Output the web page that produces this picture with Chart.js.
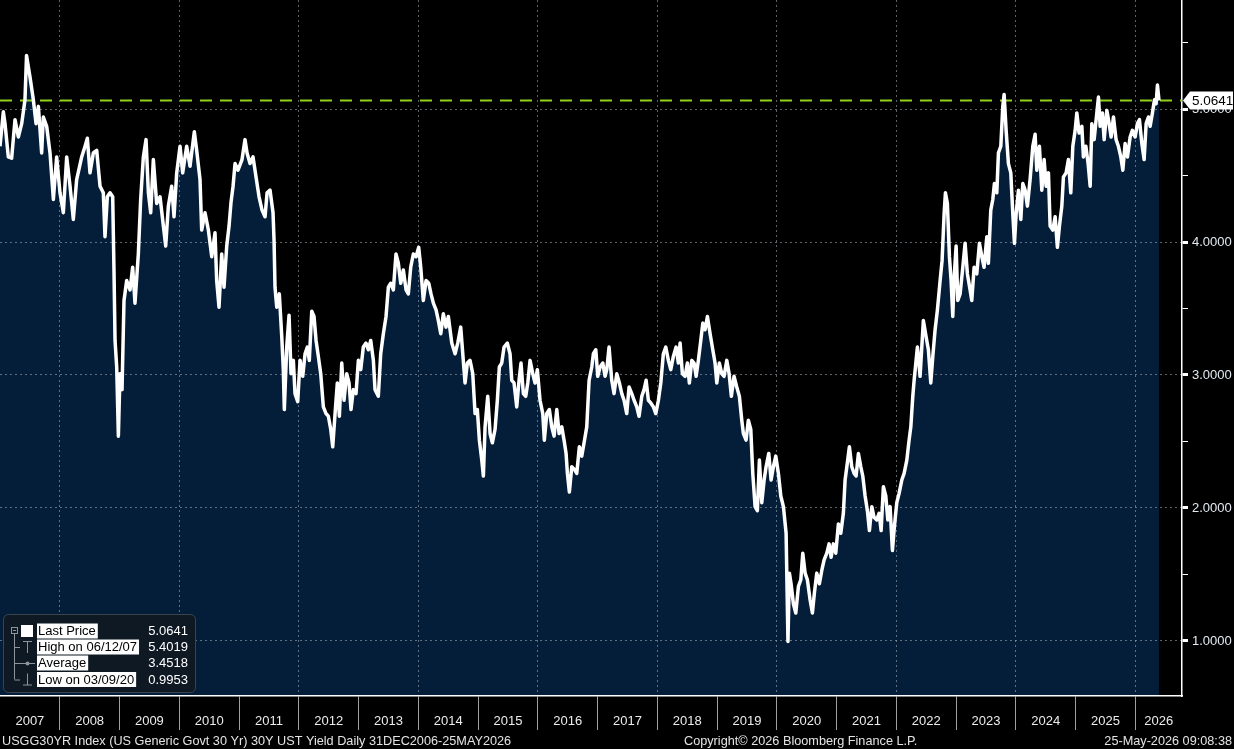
<!DOCTYPE html>
<html>
<head>
<meta charset="utf-8">
<script src="https://cdn.jsdelivr.net/npm/chart.js@4.4.1/dist/chart.umd.min.js"></script>
<style>
html, body { margin: 0; padding: 0; background: #000; }
#wrap { width: 1234px; height: 749px; }
canvas { display: block; }
</style>
</head>
<body>
<div id="wrap"><canvas id="c" width="1234" height="749"></canvas></div>
<script>
// USGG30YR, [decimal year, yield %]
const yields2007to2010 = [
  [2007.000,4.72],[2007.056,4.98],[2007.084,4.89],[2007.139,4.64],[2007.195,4.63],[2007.251,4.92],[2007.307,4.79],
  [2007.363,4.89],[2007.418,5.07],[2007.444,5.4019],[2007.502,5.24],[2007.558,5.07],[2007.603,4.89],[2007.642,5.02],
  [2007.697,4.67],[2007.725,4.94],[2007.781,4.87],[2007.837,4.67],[2007.893,4.32],[2007.948,4.64],[2008.004,4.37],
  [2008.060,4.22],[2008.116,4.64],[2008.172,4.42],[2008.227,4.17],[2008.283,4.47],[2008.367,4.64],[2008.423,4.72],
  [2008.462,4.78],[2008.506,4.52],[2008.562,4.67],[2008.618,4.69],[2008.674,4.42],[2008.729,4.37],[2008.757,4.04],
  [2008.796,4.34],[2008.841,4.37],[2008.886,4.34],[2008.908,3.77],[2008.925,3.26],[2008.953,3.06],[2008.981,2.54],
  [2009.008,3.01],[2009.042,2.89],[2009.075,3.56],[2009.120,3.71],[2009.176,3.64],[2009.220,3.81],[2009.259,3.54],
  [2009.315,3.91],[2009.354,4.32],[2009.399,4.64],[2009.444,4.77],[2009.483,4.37],[2009.522,4.22],[2009.566,4.62],
  [2009.622,4.29],[2009.678,4.34],[2009.734,4.12],[2009.773,3.97],[2009.817,4.27],[2009.873,4.42],[2009.912,4.19],
  [2009.957,4.52],[2010.013,4.72],[2010.057,4.52],[2010.124,4.72],[2010.180,4.57],[2010.252,4.83],[2010.291,4.69],
  [2010.347,4.47],[2010.375,4.09],[2010.431,4.22],[2010.487,4.09],[2010.543,3.89],[2010.598,4.07],[2010.626,3.71],
  [2010.665,3.51],[2010.710,3.91],[2010.749,3.66],[2010.794,3.97],[2010.833,4.12],[2010.866,4.30],[2010.900,4.42],
  [2010.933,4.59],[2010.983,4.54]
];
const yields2011to2014 = [
  [2011.050,4.62],[2011.100,4.77],[2011.134,4.67],[2011.184,4.59],[2011.234,4.64],[2011.301,4.44],[2011.335,4.34],
  [2011.385,4.24],[2011.435,4.19],[2011.469,4.37],[2011.519,4.39],[2011.569,4.22],[2011.586,4.01],[2011.602,3.66],
  [2011.631,3.51],[2011.674,3.61],[2011.715,3.29],[2011.741,3.04],[2011.758,2.74],[2011.798,3.21],[2011.837,3.45],
  [2011.870,3.01],[2011.909,3.11],[2011.937,2.86],[2011.982,2.80],[2012.021,3.11],[2012.066,2.99],[2012.105,3.16],
  [2012.143,3.21],[2012.176,3.11],[2012.217,3.48],[2012.255,3.44],[2012.289,3.26],[2012.327,3.14],[2012.367,3.01],
  [2012.411,2.76],[2012.456,2.71],[2012.495,2.69],[2012.535,2.59],[2012.568,2.46],[2012.607,2.71],[2012.645,2.94],
  [2012.679,2.69],[2012.719,3.09],[2012.757,2.81],[2012.802,3.01],[2012.841,2.94],[2012.874,2.74],[2012.913,2.89],
  [2012.958,2.86],[2012.997,3.11],[2013.037,3.04],[2013.080,3.21],[2013.125,3.24],[2013.164,3.19],[2013.204,3.26],
  [2013.248,3.11],[2013.276,2.89],[2013.331,2.84],[2013.371,3.16],[2013.415,3.31],[2013.460,3.44],[2013.499,3.66],
  [2013.539,3.69],[2013.582,3.64],[2013.627,3.91],[2013.666,3.84],[2013.706,3.69],[2013.750,3.79],[2013.795,3.64],
  [2013.833,3.61],[2013.873,3.81],[2013.917,3.91],[2013.962,3.89],[2014.007,3.96],[2014.041,3.81],[2014.084,3.56],
  [2014.130,3.71],[2014.175,3.69],[2014.213,3.61],[2014.252,3.54],[2014.297,3.49],[2014.335,3.41],[2014.376,3.31],
  [2014.419,3.46],[2014.464,3.36],[2014.503,3.44],[2014.560,3.24],[2014.615,3.16],[2014.660,3.24],[2014.710,3.36],
  [2014.744,3.16],[2014.782,2.94],[2014.821,3.09],[2014.866,3.11],[2014.911,3.01],[2014.950,2.71],[2014.988,2.74]
];
const yields2015to2018 = [
  [2015.022,2.51],[2015.062,2.36],[2015.089,2.24],[2015.117,2.61],[2015.162,2.84],[2015.201,2.56],[2015.239,2.49],
  [2015.284,2.59],[2015.323,2.81],[2015.356,3.06],[2015.396,3.09],[2015.435,3.21],[2015.490,3.24],[2015.535,3.16],
  [2015.564,2.96],[2015.602,2.94],[2015.647,2.76],[2015.686,2.96],[2015.719,3.09],[2015.758,2.86],[2015.798,2.84],
  [2015.832,2.94],[2015.870,3.11],[2015.915,3.01],[2015.954,2.94],[2015.992,3.04],[2016.037,2.81],[2016.083,2.71],
  [2016.109,2.51],[2016.150,2.71],[2016.193,2.74],[2016.233,2.61],[2016.272,2.54],[2016.317,2.74],[2016.356,2.56],
  [2016.401,2.61],[2016.439,2.51],[2016.473,2.41],[2016.495,2.26],[2016.528,2.12],[2016.568,2.31],[2016.612,2.29],
  [2016.652,2.26],[2016.695,2.46],[2016.735,2.39],[2016.774,2.49],[2016.819,2.61],[2016.858,2.96],[2016.903,3.06],
  [2016.930,3.16],[2016.970,3.19],[2017.003,2.99],[2017.042,3.06],[2017.087,3.09],[2017.125,2.99],[2017.154,3.04],
  [2017.192,3.21],[2017.237,2.96],[2017.276,2.86],[2017.321,3.01],[2017.365,2.94],[2017.405,2.86],[2017.443,2.81],
  [2017.488,2.71],[2017.527,2.91],[2017.572,2.86],[2017.611,2.81],[2017.656,2.76],[2017.694,2.69],[2017.740,2.84],
  [2017.778,2.89],[2017.812,2.96],[2017.850,2.81],[2017.890,2.79],[2017.934,2.76],[2017.974,2.71],[2018.018,2.81],
  [2018.058,2.94],[2018.101,3.16],[2018.141,3.21],[2018.185,3.11],[2018.225,3.04],[2018.268,3.14],[2018.314,3.21],
  [2018.352,3.09],[2018.381,3.24],[2018.419,3.01],[2018.464,2.99],[2018.503,3.09],[2018.536,2.94],[2018.577,3.11],
  [2018.615,3.09],[2018.649,2.99],[2018.687,3.11],[2018.727,3.26],[2018.761,3.39],[2018.799,3.34],[2018.838,3.44],
  [2018.883,3.31],[2018.928,3.19],[2018.966,3.09],[2018.995,2.94]
];
const yields2019to2022 = [
  [2019.038,3.09],[2019.078,3.01],[2019.117,2.99],[2019.162,3.11],[2019.201,3.01],[2019.239,2.84],[2019.284,2.99],
  [2019.329,2.91],[2019.373,2.84],[2019.413,2.66],[2019.440,2.56],[2019.485,2.51],[2019.523,2.66],[2019.564,2.59],
  [2019.597,2.26],[2019.636,2.01],[2019.674,1.98],[2019.708,2.36],[2019.748,2.04],[2019.787,2.21],[2019.820,2.31],
  [2019.865,2.41],[2019.904,2.21],[2019.942,2.31],[2019.982,2.39],[2020.026,2.26],[2020.066,2.09],[2020.110,2.01],
  [2020.155,1.81],[2020.186,0.9953],[2020.210,1.51],[2020.238,1.43],[2020.277,1.28],[2020.317,1.21],[2020.361,1.41],
  [2020.401,1.46],[2020.434,1.66],[2020.473,1.51],[2020.511,1.46],[2020.556,1.31],[2020.595,1.21],[2020.628,1.36],
  [2020.668,1.51],[2020.712,1.43],[2020.752,1.53],[2020.791,1.61],[2020.836,1.66],[2020.874,1.73],[2020.908,1.63],
  [2020.946,1.73],[2020.986,1.66],[2021.030,1.88],[2021.070,1.81],[2021.113,1.96],[2021.142,2.21],[2021.180,2.34],
  [2021.214,2.46],[2021.254,2.31],[2021.293,2.26],[2021.326,2.24],[2021.365,2.41],[2021.405,2.31],[2021.438,2.24],
  [2021.477,2.09],[2021.515,1.98],[2021.549,1.83],[2021.589,2.01],[2021.627,1.93],[2021.672,1.91],[2021.711,1.96],
  [2021.745,1.83],[2021.783,2.16],[2021.823,2.09],[2021.857,1.91],[2021.895,2.01],[2021.934,1.68],[2021.967,1.86],
  [2022.007,2.04],[2022.046,2.11],[2022.091,2.21],[2022.130,2.26],[2022.175,2.36],[2022.213,2.51],[2022.242,2.61],
  [2022.275,2.84],[2022.297,2.96],[2022.352,3.21],[2022.397,2.99],[2022.452,3.41],[2022.497,3.29],[2022.536,3.19],
  [2022.576,2.94],[2022.610,3.14],[2022.648,3.34],[2022.687,3.49],[2022.732,3.71],[2022.765,3.86],[2022.799,4.21],
  [2022.821,4.37],[2022.854,4.29],[2022.888,3.89],[2022.916,3.71],[2022.944,3.44],[2022.971,3.76]
];
const yields2023to2026 = [
  [2023.000,3.97],[2023.028,3.56],[2023.067,3.61],[2023.112,3.81],[2023.150,3.99],[2023.189,3.76],[2023.234,3.64],
  [2023.262,3.56],[2023.301,3.81],[2023.346,3.76],[2023.390,3.99],[2023.430,3.89],[2023.468,3.81],[2023.514,4.04],
  [2023.540,3.84],[2023.580,4.24],[2023.614,4.32],[2023.641,4.44],[2023.681,4.37],[2023.708,4.67],[2023.748,4.72],
  [2023.781,5.02],[2023.803,5.11],[2023.837,4.84],[2023.875,4.59],[2023.915,4.52],[2023.949,4.21],[2023.976,3.99],
  [2024.004,4.21],[2024.043,4.39],[2024.083,4.17],[2024.116,4.44],[2024.155,4.39],[2024.193,4.27],[2024.238,4.47],
  [2024.283,4.72],[2024.322,4.81],[2024.350,4.54],[2024.394,4.72],[2024.434,4.39],[2024.473,4.62],[2024.506,4.42],
  [2024.545,4.52],[2024.573,4.12],[2024.618,4.09],[2024.657,4.19],[2024.695,3.96],[2024.729,4.12],[2024.769,4.27],
  [2024.796,4.49],[2024.841,4.52],[2024.879,4.62],[2024.919,4.37],[2024.953,4.72],[2024.992,4.84],[2025.020,4.97],
  [2025.058,4.82],[2025.104,4.87],[2025.130,4.64],[2025.171,4.72],[2025.209,4.59],[2025.243,4.42],[2025.271,4.89],
  [2025.310,4.77],[2025.343,4.92],[2025.382,5.09],[2025.410,4.87],[2025.448,4.97],[2025.477,4.77],[2025.522,4.99],
  [2025.561,4.89],[2025.594,4.79],[2025.633,4.94],[2025.677,4.77],[2025.716,4.72],[2025.756,4.64],[2025.790,4.54],
  [2025.828,4.74],[2025.867,4.64],[2025.912,4.79],[2025.950,4.84],[2025.996,4.79],[2026.034,4.89],[2026.068,4.92],
  [2026.108,4.74],[2026.146,4.62],[2026.180,4.89],[2026.218,4.94],[2026.247,4.87],[2026.285,4.97],[2026.319,5.07],
  [2026.347,5.04],[2026.369,5.18],[2026.395,5.0641]
];

const yearTicks = [2007,2008,2009,2010,2011,2012,2013,2014,2015,2016,2017,2018,2019,2020,2021,2022,2023,2024,2025,2026];
const yTickValues = [1, 2, 3, 4, 5];
const yMinorValues = [1.5, 2.5, 3.5, 4.5, 5.5];
const legendLabels = ['Last Price', 'High on 06/12/07', 'Average', 'Low on 03/09/20'];
const legendValues = [5.0641, 5.4019, 3.4518, 0.9953];
const footerLeft = 'USGG30YR Index (US Generic Govt 30 Yr) 30Y UST Yield Daily 31DEC2006-25MAY2026';
const footerMid = 'Copyright\u00a9 2026 Bloomberg Finance L.P.';
const footerRight = '25-May-2026 09:08:38';

const xMin = 2007, xMax = 2026.78;
const yMin = 0.586, yMax = 5.82;

const points = [].concat(yields2007to2010, yields2011to2014, yields2015to2018, yields2019to2022, yields2023to2026)
  .map(function (p) { return { x: p[0], y: p[1] }; });
const lastPrice = points[points.length - 1].y;

const GRID = 'rgba(170,180,190,0.55)';
const NONE = 'rgba(0,0,0,0)';
const FONT = '"Liberation Sans", Arial, sans-serif';

Chart.defaults.font.family = FONT;
Chart.defaults.font.size = 13;

// dashed last price line, right-hand tag, legend box, footer
const decor = {
  id: 'decor',
  beforeDatasetsDraw(chart) {
    const ctx = chart.ctx, a = chart.chartArea;
    const py = chart.scales.y.getPixelForValue(lastPrice);
    ctx.save();
    ctx.strokeStyle = '#8fd11c';
    ctx.lineWidth = 2;
    ctx.setLineDash([12, 8]);
    ctx.beginPath();
    ctx.moveTo(a.left, py);
    ctx.lineTo(a.right, py);
    ctx.stroke();
    ctx.restore();
  },
  afterDraw(chart) {
    const ctx = chart.ctx, a = chart.chartArea;
    const py = chart.scales.y.getPixelForValue(lastPrice);

    // last price tag
    ctx.save();
    ctx.fillStyle = '#fff';
    ctx.beginPath();
    ctx.moveTo(a.right + 1, py);
    ctx.lineTo(a.right + 8, py - 9);
    ctx.lineTo(chart.width - 1, py - 9);
    ctx.lineTo(chart.width - 1, py + 9);
    ctx.lineTo(a.right + 8, py + 9);
    ctx.closePath();
    ctx.fill();
    ctx.fillStyle = '#000';
    ctx.font = '13.5px ' + FONT;
    ctx.textBaseline = 'middle';
    ctx.fillText(lastPrice.toFixed(4), a.right + 10, py + 1);

    // legend box
    const bx = a.left + 3, by = a.bottom - 82, bw = 192, bh = 78;
    ctx.fillStyle = '#0f1923';
    ctx.strokeStyle = '#3a444e';
    ctx.lineWidth = 1;
    ctx.beginPath();
    ctx.roundRect(bx + 0.5, by + 0.5, bw, bh, 5);
    ctx.fill();
    ctx.stroke();

    const rowY = [by + 17, by + 33, by + 49, by + 65.5];
    const grey = '#8d949b';
    ctx.strokeStyle = grey;
    ctx.fillStyle = grey;
    ctx.lineWidth = 1;
    // tree
    ctx.strokeRect(bx + 8.5, rowY[0] - 3.5, 6, 6);
    ctx.beginPath();
    ctx.moveTo(bx + 10, rowY[0] - 0.5); ctx.lineTo(bx + 13, rowY[0] - 0.5);
    ctx.moveTo(bx + 11.5, rowY[0] + 3); ctx.lineTo(bx + 11.5, rowY[3]);
    for (let i = 1; i < 4; i++) {
      ctx.moveTo(bx + 11.5, rowY[i] + 0.5); ctx.lineTo(bx + 17, rowY[i] + 0.5);
    }
    // high
    ctx.moveTo(bx + 20, rowY[1] - 5.5); ctx.lineTo(bx + 29, rowY[1] - 5.5);
    ctx.moveTo(bx + 24.5, rowY[1] - 5.5); ctx.lineTo(bx + 24.5, rowY[1] + 6);
    // average
    ctx.moveTo(bx + 17, rowY[2] + 0.5); ctx.lineTo(bx + 32, rowY[2] + 0.5);
    // low
    ctx.moveTo(bx + 24.5, rowY[3] - 6); ctx.lineTo(bx + 24.5, rowY[3] + 5.5);
    ctx.moveTo(bx + 20, rowY[3] + 5.5); ctx.lineTo(bx + 29, rowY[3] + 5.5);
    ctx.stroke();
    ctx.beginPath();
    ctx.arc(bx + 24.5, rowY[2] + 0.5, 2, 0, Math.PI * 2);
    ctx.fill();
    ctx.fillStyle = '#fff';
    ctx.fillRect(bx + 18, rowY[0] - 6, 12, 12);

    ctx.font = '13px ' + FONT;
    ctx.textBaseline = 'middle';
    for (let i = 0; i < legendLabels.length; i++) {
      const w = ctx.measureText(legendLabels[i]).width;
      ctx.fillStyle = '#fff';
      ctx.fillRect(bx + 34, rowY[i] - 7.5, w + 3, 15);
      ctx.fillStyle = '#000';
      ctx.textAlign = 'left';
      ctx.fillText(legendLabels[i], bx + 35, rowY[i] + 0.5);
      ctx.fillStyle = '#fff';
      ctx.textAlign = 'right';
      ctx.fillText(legendValues[i].toFixed(4), bx + 185, rowY[i] + 0.5);
    }

    // footer
    ctx.font = '12.7px ' + FONT;
    ctx.fillStyle = '#e4e4e4';
    ctx.textBaseline = 'middle';
    ctx.textAlign = 'left';
    ctx.fillText(footerLeft, 2, chart.height - 8);
    ctx.fillText(footerMid, 684, chart.height - 8);
    ctx.textAlign = 'right';
    ctx.fillText(footerRight, chart.width - 2, chart.height - 8);
    ctx.restore();
  }
};

new Chart(document.getElementById('c'), {
  type: 'line',
  data: {
    datasets: [{
      data: points,
      xAxisID: 'x',
      yAxisID: 'y',
      borderColor: '#ffffff',
      borderWidth: 3.5,
      borderJoinStyle: 'round',
      backgroundColor: '#041d38',
      fill: 'start',
      pointRadius: 0,
      tension: 0
    }]
  },
  options: {
    responsive: false,
    animation: false,
    devicePixelRatio: 1,
    layout: { padding: { left: 0, right: 0, top: 0, bottom: 14 } },
    plugins: {
      legend: { display: false },
      tooltip: { enabled: false },
      filler: { drawTime: 'beforeDraw' }
    },
    scales: {
      xg: {
        type: 'linear', position: 'bottom', weight: 0, min: xMin, max: xMax,
        grid: {
          color: function (c) { return c.tick && c.tick.value % 2 === 0 ? GRID : NONE; },
          drawTicks: true, tickLength: 34, tickColor: '#a0a0a0', tickWidth: 1
        },
        border: { display: true, color: '#ffffff', width: 1.5, dash: [2, 3] },
        ticks: { display: false },
        afterBuildTicks: function (s) { s.ticks = yearTicks.slice(1).map(function (yr) { return { value: yr }; }); },
        afterFit: function (s) { s.height = 0; s.paddingLeft = 0; s.paddingRight = 0; }
      },
      x: {
        type: 'linear', position: 'bottom', weight: 1, min: xMin, max: xMax,
        grid: { display: false, drawTicks: false },
        border: { display: false },
        ticks: {
          color: '#ececec', padding: 18, maxRotation: 0, autoSkip: false,
          callback: function (v) { return String(Math.floor(v)); }
        },
        afterBuildTicks: function (s) {
          s.ticks = yearTicks.map(function (yr) { return { value: (yr + Math.min(yr + 1, s.max)) / 2 }; });
        },
        afterFit: function (s) { s.height = 39; s.paddingLeft = 0; s.paddingRight = 0; }
      },
      y: {
        type: 'linear', position: 'right', min: yMin, max: yMax,
        grid: {
          color: function (c) { return c.tick && Number.isInteger(c.tick.value) ? GRID : NONE; },
          drawTicks: true, tickLength: 6, tickColor: '#ffffff',
          tickWidth: function (c) { return c.tick && Number.isInteger(c.tick.value) ? 3 : 1; }
        },
        border: { display: true, color: '#ffffff', width: 1.5, dash: [2, 3] },
        ticks: {
          color: '#e3eaf2', padding: 4,
          callback: function (v) { return Number.isInteger(v) ? v.toFixed(4) : ''; }
        },
        afterBuildTicks: function (s) {
          s.ticks = yTickValues.concat(yMinorValues).sort(function (a, b) { return a - b; })
            .map(function (v) { return { value: v }; });
        },
        afterFit: function (s) { s.width = 52; s.paddingTop = 0; s.paddingBottom = 0; }
      }
    }
  },
  plugins: [decor]
});
</script>
</body>
</html>
